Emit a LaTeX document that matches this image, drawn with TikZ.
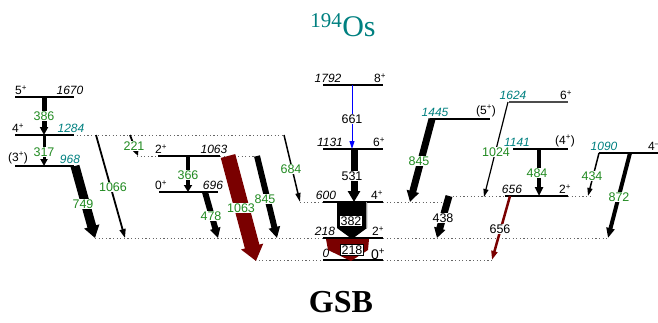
\documentclass[tikz,border=0pt]{standalone}
\usepackage{fontspec}
\setmainfont{Liberation Serif}
\setsansfont{Liberation Sans}
\usetikzlibrary{arrows.meta}
\definecolor{gr}{RGB}{34,139,34}
\definecolor{tl}{RGB}{0,128,128}
\definecolor{dred}{RGB}{122,0,0}
\newcommand\gar[6]{\draw[line width=#1pt,#4,-{Triangle[length=#3pt,width=#2pt]}] (#5) -- (#6);}
\begin{document}
\begin{tikzpicture}[x=1pt,y=-1pt,
 lev/.style={line width=1.1pt},
 dots/.style={black!60, line width=0.8pt, dash pattern=on 1.2pt off 2.4pt},
 en/.style={font=\sffamily\itshape\fontsize{12}{14}\selectfont, anchor=south, inner sep=1pt},
 enc/.style={en, text=tl},
 sp/.style={font=\sffamily\fontsize{12}{14}\selectfont, anchor=south, inner sep=1pt},
 gl/.style={font=\sffamily\fontsize{12.5}{14}\selectfont, text=gr, fill=white, inner sep=0.6pt},
 bl/.style={gl, text=black},
 bx/.style={bl, draw=black, line width=0.4pt, inner sep=1.2pt}
]
\useasboundingbox (0,0) rectangle (658,322);
% title
\node[text=tl, font=\fontsize{30}{32}\selectfont] (title) at (343,25) {\textsuperscript{194}Os};
\node[font=\bfseries\fontsize{32}{34}\selectfont] (gsb) at (341,302) {GSB};

% dotted extensions
\draw[dots] (73,135) -- (284,135);
\draw[dots] (137,156) -- (158,156);
\draw[dots] (220,156) -- (258,156);
\draw[dots] (300,202) -- (323,202);
\draw[dots] (383,202) -- (449,202);
\draw[dots] (449,196) -- (505,196);
\draw[dots] (568,196) -- (590,196);
\draw[dots] (95,238) -- (323,238);
\draw[dots] (383,238) -- (608,238);
\draw[dots] (255,260) -- (323,260);
\draw[dots] (383,260) -- (492,260);

% levels
\draw[lev] (15,97) -- (74,97);
\draw[lev] (15,135) -- (74,135);
\draw[lev] (15,166) -- (74,166);
\draw[lev] (158,156) -- (220,156);
\draw[lev] (159,192) -- (218,192);
\draw[lev] (323,85) -- (383,85);
\draw[lev] (323,149) -- (383,149);
\draw[lev] (323,202) -- (383,202);
\draw[lev] (323,238) -- (383,238);
\draw[lev] (323,260) -- (383,260);
\draw[lev] (430,119) -- (490,119);
\draw[lev, black!70] (509,102) -- (568,102);
\draw[lev] (513,149) -- (568,149);
\draw[lev] (505,196) -- (568,196);
\draw[lev] (599,153) -- (660,153);

% level labels
\node[sp] (s1) at (21,96) {5\textsuperscript{+}};
\node[en] (e1) at (70,96) {1670};
\node[sp] (s2) at (18,134) {4\textsuperscript{+}};
\node[enc] (e2) at (71,134) {1284};
\node[sp] (s3) at (18,165) {(3\textsuperscript{+})};
\node[enc] (e3) at (70,165) {968};
\node[sp] (s4) at (161,155) {2\textsuperscript{+}};
\node[en] (e4) at (214,155) {1063};
\node[sp] (s5) at (161,191) {0\textsuperscript{+}};
\node[en] (e5) at (213,191) {696};
\node[en] (e6) at (328,84) {1792};
\node[sp] (s6) at (380,84) {8\textsuperscript{+}};
\node[en] (e7) at (330,148) {1131};
\node[sp] (s7) at (379,148) {6\textsuperscript{+}};
\node[en] (e8) at (326,201) {600};
\node[sp] (s8) at (377,201) {4\textsuperscript{+}};
\node[en] (e9) at (325,237) {218};
\node[sp] (s9) at (378,237) {2\textsuperscript{+}};
\node[en] (e10) at (326,259) {0};
\node[sp, font=\sffamily\fontsize{14}{15}\selectfont] (s10) at (378,261) {0\textsuperscript{+}};
\node[enc] (e11) at (435,118) {1445};
\node[sp] (s11) at (486,118) {(5\textsuperscript{+})};
\node[enc] (e12) at (513,101) {1624};
\node[sp] (s12) at (566,101) {6\textsuperscript{+}};
\node[enc] (e13) at (517,148) {1141};
\node[sp] (s13) at (565,148) {(4\textsuperscript{+})};
\node[en] (e14) at (512,195) {656};
\node[sp] (s14) at (565,195) {2\textsuperscript{+}};
\node[enc] (e15) at (604,152) {1090};
\node[sp, anchor=south west] (s15) at (647,152) {4\textsuperscript{--}};

% arrow end points
\coordinate (a386) at (44,97);   \coordinate (b386) at (44,135);
\coordinate (a317) at (44,135);  \coordinate (b317) at (44,166);
\coordinate (a749) at (75,166);  \coordinate (b749) at (95,238);
\coordinate (a1066) at (96,135); \coordinate (b1066) at (125,238);
\coordinate (a221) at (130,135); \coordinate (b221) at (138,156);
\coordinate (a366) at (188,156); \coordinate (b366) at (188,192);
\coordinate (a478) at (205,192); \coordinate (b478) at (218,238);
\coordinate (a1063) at (228,156); \coordinate (b1063) at (256,261);
\coordinate (a845) at (257,156); \coordinate (b845) at (277,238);
\coordinate (a684) at (284,135); \coordinate (b684) at (300,202);
\coordinate (a661) at (352,85);  \coordinate (b661) at (352,149);
\coordinate (a531) at (354,149); \coordinate (b531) at (354,202);
\coordinate (a845r) at (432,119); \coordinate (b845r) at (410,202);
\coordinate (a1024) at (508,102); \coordinate (b1024) at (484,197);
\coordinate (a484) at (539,149); \coordinate (b484) at (539,196);
\coordinate (a438) at (449,196); \coordinate (b438) at (437,238);
\coordinate (a656) at (510,196); \coordinate (b656) at (492,260);
\coordinate (a434) at (599,153); \coordinate (b434) at (588,196);
\coordinate (a872) at (630,153); \coordinate (b872) at (608,238);

% gamma arrows
\gar{5}{8}{8}{black}{a386}{b386}
\gar{3}{7}{7}{black}{a317}{b317}
\gar{9}{15}{12}{black}{a749}{b749}
\gar{1.8}{6}{9}{black}{a1066}{b1066}
\gar{1.8}{6}{7}{black}{a221}{b221}
\gar{4}{8}{7}{black}{a366}{b366}
\gar{6}{10}{10}{black}{a478}{b478}
\gar{15}{22}{15}{dred}{a1063}{b1063}
\gar{6}{11}{11}{black}{a845}{b845}
\gar{1.5}{5}{9}{black}{a684}{b684}
\gar{1}{5}{8}{blue}{a661}{b661}
\gar{7}{12}{11}{black}{a531}{b531}
\gar{7}{12}{11}{black}{a845r}{b845r}
\gar{1.2}{5}{8}{black}{a1024}{b1024}
\gar{3.5}{8}{9}{black}{a484}{b484}
\gar{7}{11}{10}{black}{a438}{b438}
\gar{2.5}{6}{9}{dred}{a656}{b656}
\gar{1.5}{5}{8}{black}{a434}{b434}
\gar{4}{8}{10}{black}{a872}{b872}
% block arrows
\fill[black] (337,202) -- (367,202) -- (367,228) -- (352,239) -- (337,228) -- cycle;
\draw[black!40, line width=1pt] (366.5,202) -- (366.5,228);
\fill[dred] (326,239) -- (369,239) -- (368,250) -- (351,261) -- (328,250) -- cycle;

% gamma labels
\node[gl] (g386) at (44,116) {386};
\node[gl] (g317) at (44,152) {317};
\node[gl] (g749) at (83,204) {749};
\node[gl] (g1066) at (113,187) {1066};
\node[gl] (g221) at (134,146) {221};
\node[gl] (g366) at (188,175) {366};
\node[gl] (g478) at (211,216) {478};
\node[gl] (g1063) at (241,208) {1063};
\node[gl] (g845) at (265,199) {845};
\node[gl] (g684) at (291,169) {684};
\node[bl] (g661) at (352,119) {661};
\node[bl] (g531) at (352,176) {531};
\node[bx] (g382) at (351,221) {382};
\node[bx] (g218) at (352,250) {218};
\node[gl] (g845r) at (419,161) {845};
\node[gl] (g1024) at (496,152) {1024};
\node[gl] (g484) at (537,173) {484};
\node[bl] (g438) at (443,218) {438};
\node[bl] (g656) at (500,229) {656};
\node[gl] (g434) at (592,176) {434};
\node[gl] (g872) at (619,197) {872};
\end{tikzpicture}
\end{document}
